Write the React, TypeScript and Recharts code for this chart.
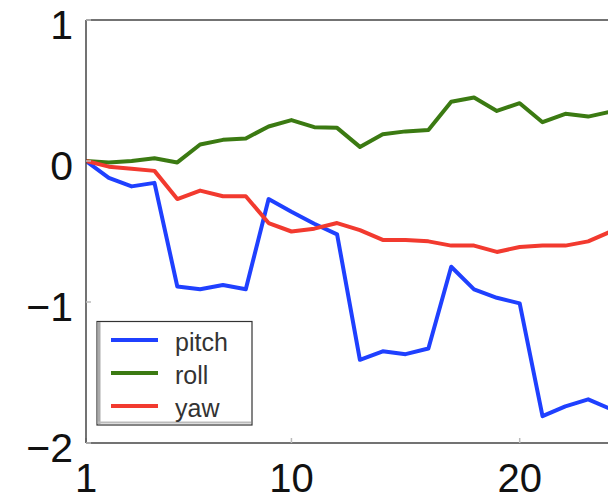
import React from "react";
import { Line, LineChart, XAxis, YAxis } from "recharts";

// sample index along the run
const steps = [1, 2, 3, 4, 5, 6, 7, 8, 9, 10, 11, 12, 13, 14, 15, 16, 17, 18, 19, 20, 21, 22, 23, 24];

// attitude angles per step
const pitch = [0, -0.12, -0.18, -0.155, -0.89, -0.91, -0.88, -0.91, -0.27, -0.36, -0.445, -0.52, -1.41, -1.35, -1.37, -1.33, -0.75, -0.91, -0.97, -1.01, -1.81, -1.74, -1.69, -1.76];
const roll = [0, -0.01, 0, 0.02, -0.01, 0.117, 0.15, 0.16, 0.245, 0.29, 0.24, 0.235, 0.1, 0.19, 0.21, 0.22, 0.42, 0.45, 0.355, 0.41, 0.275, 0.335, 0.315, 0.35];
const yaw = [0, -0.04, -0.055, -0.07, -0.27, -0.21, -0.25, -0.25, -0.44, -0.5, -0.48, -0.44, -0.49, -0.56, -0.56, -0.57, -0.6, -0.6, -0.645, -0.61, -0.6, -0.6, -0.57, -0.5];

const xTicks = [1, 10, 20];
const yTicks = [-2, -1, 0, 1];

// pitch is bound to the top/right axes so those box edges get drawn too
// (all axes share the same domains, so positions are identical)
const series = [
  { key: "pitch", color: "#1f40ff", xId: "top", yId: "right" },
  { key: "roll", color: "#3b7a12", xId: 0, yId: 0 },
  { key: "yaw", color: "#f23a2f", xId: 0, yId: 0 },
];

const data = steps.map((t, i) => ({ t, pitch: pitch[i], roll: roll[i], yaw: yaw[i] }));

const FONT = "'Liberation Sans', Arial, Helvetica, sans-serif";
const fmt = (v: number) => (v < 0 ? "\u2212" + Math.abs(v) : String(v));

const axisLine = { stroke: "#444", strokeWidth: 1.5 };
const tickLine = { stroke: "#bbb", strokeWidth: 1.5 };

const XTick = (props: any) => (
  <text x={props.x} y={props.y + 54} textAnchor="middle" fontSize={40} fill="#111" fontFamily={FONT}>
    {props.payload.value}
  </text>
);

const YTick = (props: any) => (
  <text x={props.x - 18} y={props.y + 19} textAnchor="end" fontSize={41} fill="#111" fontFamily={FONT}>
    {fmt(props.payload.value)}
  </text>
);

function LegendBox() {
  const rows = [340, 373, 406];
  return (
    <svg width={608} height={498} style={{ position: "absolute", left: 0, top: 0, pointerEvents: "none" }}>
      <rect x={97} y={321.5} width={155} height={103.5} fill="#fff" stroke="#333" strokeWidth={1.2} />
      <line x1={99} y1={322} x2={99} y2={424} stroke="#aaa" strokeWidth={3} />
      <line x1={98} y1={422.5} x2={251} y2={422.5} stroke="#bbb" strokeWidth={2} />
      {series.map((s, i) => (
        <g key={s.key}>
          <line x1={111} y1={rows[i]} x2={158} y2={rows[i]} stroke={s.color} strokeWidth={4} />
          <text x={175} y={rows[i] + 11} fontSize={25} fill="#333" fontFamily={FONT}>
            {s.key}
          </text>
        </g>
      ))}
    </svg>
  );
}

export default function App() {
  return (
    <div style={{ position: "fixed", left: 0, top: 0, width: 608, height: 498, overflow: "hidden", background: "#fff" }}>
      <LineChart width={640} height={498} data={data} margin={{ top: 19, right: 28, bottom: 15, left: 26 }}>
        <XAxis
          dataKey="t"
          type="number"
          domain={[1, 24]}
          ticks={xTicks}
          allowDataOverflow
          height={40}
          axisLine={axisLine}
          tickLine={tickLine}
          tickSize={-5}
          tickMargin={0}
          tick={XTick}
          interval={0}
        />
        <XAxis
          xAxisId="top"
          orientation="top"
          dataKey="t"
          type="number"
          domain={[1, 24]}
          ticks={xTicks}
          allowDataOverflow
          height={1}
          axisLine={axisLine}
          tickLine={tickLine}
          tickSize={-5}
          tick={false}
          interval={0}
        />
        <YAxis
          type="number"
          domain={[-2, 1]}
          ticks={yTicks}
          allowDataOverflow
          width={60}
          axisLine={axisLine}
          tickLine={tickLine}
          tickSize={-5}
          tickMargin={0}
          tick={YTick}
          interval={0}
        />
        <YAxis
          yAxisId="right"
          orientation="right"
          type="number"
          domain={[-2, 1]}
          ticks={yTicks}
          allowDataOverflow
          width={1}
          axisLine={axisLine}
          tickLine={tickLine}
          tickSize={-5}
          tick={false}
          interval={0}
        />
        {series.map((s) => (
          <Line
            key={s.key}
            xAxisId={s.xId}
            yAxisId={s.yId}
            dataKey={s.key}
            type="linear"
            stroke={s.color}
            strokeWidth={4}
            dot={false}
            strokeLinejoin="round"
            isAnimationActive={false}
          />
        ))}
      </LineChart>
      <LegendBox />
    </div>
  );
}
